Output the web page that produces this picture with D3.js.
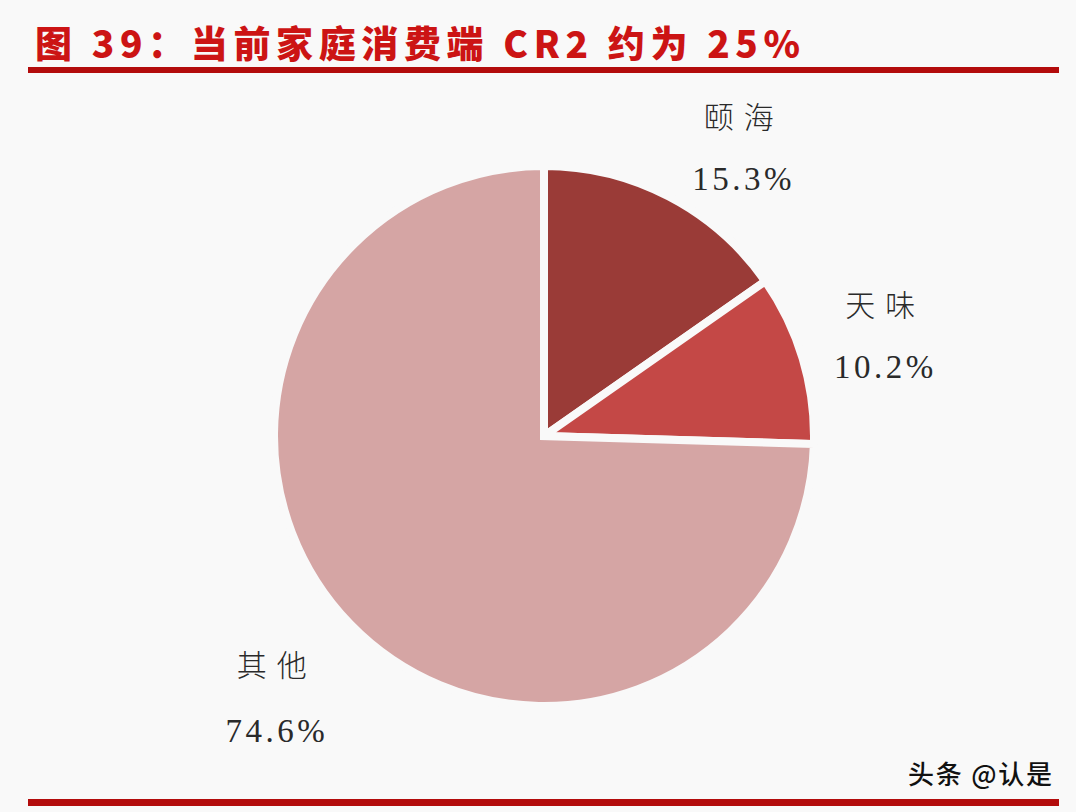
<!DOCTYPE html>
<html><head><meta charset="utf-8">
<script src="https://cdn.jsdelivr.net/npm/d3@7"></script>
<style>html,body{margin:0;padding:0;background:#f9f9f9;}svg{display:block;}</style>
</head><body>
<svg id="chart" width="1076" height="812"></svg>
<script>
const categories = ["颐海", "天味", "其他"];
const values = [15.3, 10.2, 74.6];
const valueLabels = ["15.3%", "10.2%", "74.6%"];
const colors = ["#9a3b37", "#c44846", "#d5a5a4"];
const titleText = "图 39：当前家庭消费端 CR2 约为 25%";
const watermark = "头条 @认是";

const svg = d3.select("#chart");
svg.append("rect").attr("width",1076).attr("height",812).attr("fill","#f9f9f9");

// title
svg.append("text").attr("x",35).attr("y",58)
  .attr("font-family","'Noto Sans CJK SC', sans-serif").attr("font-weight",900)
  .attr("font-size",37).attr("fill","#cc1414")
  .attr("textLength",765).attr("lengthAdjust","spacing")
  .text(titleText);
svg.append("rect").attr("x",28).attr("y",67).attr("width",1031).attr("height",6).attr("fill","#b30c0c");
svg.append("rect").attr("x",28).attr("y",799).attr("width",1031).attr("height",7).attr("fill","#b30c0c");

// pie
const cx = 544, cy = 436, R = 270;
const data = categories.map((c,i)=>({name:c, value:values[i], label:valueLabels[i], color:colors[i]}));
const pie = d3.pie().value(d=>d.value).sort(null);
const arcs = pie(data);
const arc = d3.arc().innerRadius(0).outerRadius(R);
const g = svg.append("g").attr("transform",`translate(${cx},${cy})`);
g.selectAll("path").data(arcs).join("path")
  .attr("d",arc).attr("fill",d=>d.data.color)
  .attr("stroke","#f9f9f9").attr("stroke-width",8).attr("stroke-linejoin","miter");

// labels
const labelArc = d3.arc().innerRadius(350).outerRadius(350);
const nudge = [[38,22],[6,0],[-16,16]];
const gap = [62, 62, 66];
const lg = g.selectAll("g.lbl").data(arcs).join("g").attr("class","lbl")
  .attr("transform",(d,i)=>{const c=labelArc.centroid(d);return `translate(${c[0]+nudge[i][0]},${c[1]+nudge[i][1]})`;});
lg.append("text").attr("text-anchor","middle").attr("y",-20)
  .attr("font-family","'Noto Sans CJK SC', sans-serif").attr("font-weight",300)
  .attr("font-size",30).attr("letter-spacing",10).attr("fill","#2a2a2a")
  .text(d=>d.data.name);
lg.append("text").attr("text-anchor","middle").attr("y",(d,i)=>-20+gap[i])
  .attr("font-family","'Liberation Serif', serif")
  .attr("font-size",33).attr("letter-spacing",3.5).attr("fill","#2a2a2a")
  .text(d=>d.data.label);

// watermark
svg.append("text").attr("x",908).attr("y",784)
  .attr("font-family","'Noto Sans CJK SC', sans-serif").attr("font-size",26).attr("font-weight",500)
  .attr("fill","#111111")
  .attr("textLength",144).attr("lengthAdjust","spacing")
  .text(watermark);
</script>
</body></html>
